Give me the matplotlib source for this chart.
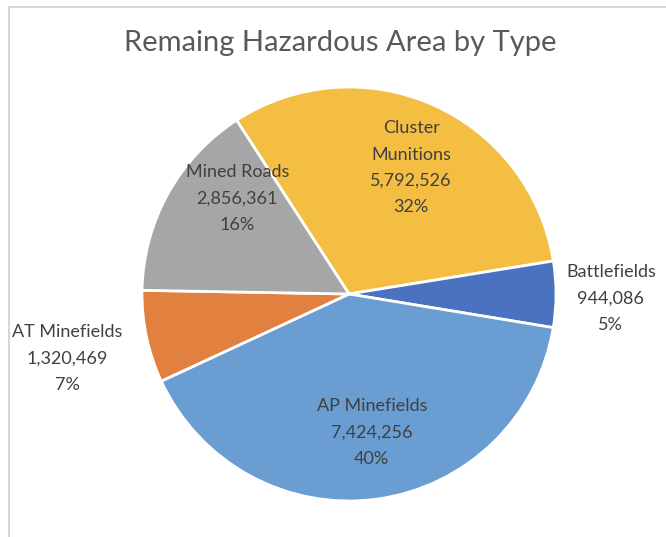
import matplotlib
matplotlib.use("Agg")
import matplotlib.pyplot as plt
from matplotlib.patches import Rectangle

categories = ["Cluster\nMunitions", "Battlefields", "AP Minefields", "AT Minefields", "Mined Roads"]
values = [5792526, 944086, 7424256, 1320469, 2856361]
percent_labels = ["32%", "5%", "40%", "7%", "16%"]
colors = ["#F3BE42", "#4A72C1", "#6A9DD2", "#E2803F", "#A6A6A6"]
title = "Remaing Hazardous Area by Type"

# label placement (axes data units, pie radius = 1)
label_xy = [(0.30, 0.61), (1.265, -0.02), (0.11, -0.67), (-1.36, -0.31), (-0.54, 0.46)]

plt.rcParams['font.family'] = ['Lato', 'DejaVu Sans']
fig = plt.figure(figsize=(6.66, 5.37), dpi=100)
fig.patches.append(Rectangle((9/666, -0.1), 1.2, (537-7)/537 + 0.1, transform=fig.transFigure,
                             fill=False, edgecolor="#D0D0D0", linewidth=1.2))

ax = fig.add_axes([(349-207)/666, (537-294-207)/537, 414/666, 414/537])
ax.pie(values, colors=colors, startangle=122.9, counterclock=False,
       wedgeprops=dict(edgecolor="white", linewidth=2))
ax.set_xlim(-1, 1)
ax.set_ylim(-1, 1)
ax.axis("off")

for cat, v, p, (x, y) in zip(categories, values, percent_labels, label_xy):
    ax.text(x, y, f"{cat}\n{v:,}\n{p}", ha="center", va="center", fontsize=13,
            color="#404040", linespacing=1.8, clip_on=False)

fig.text(340/666, 1 - 43/537, title, ha="center", va="center", fontsize=21, color="#595959")
fig.savefig("out.png", dpi=100)
